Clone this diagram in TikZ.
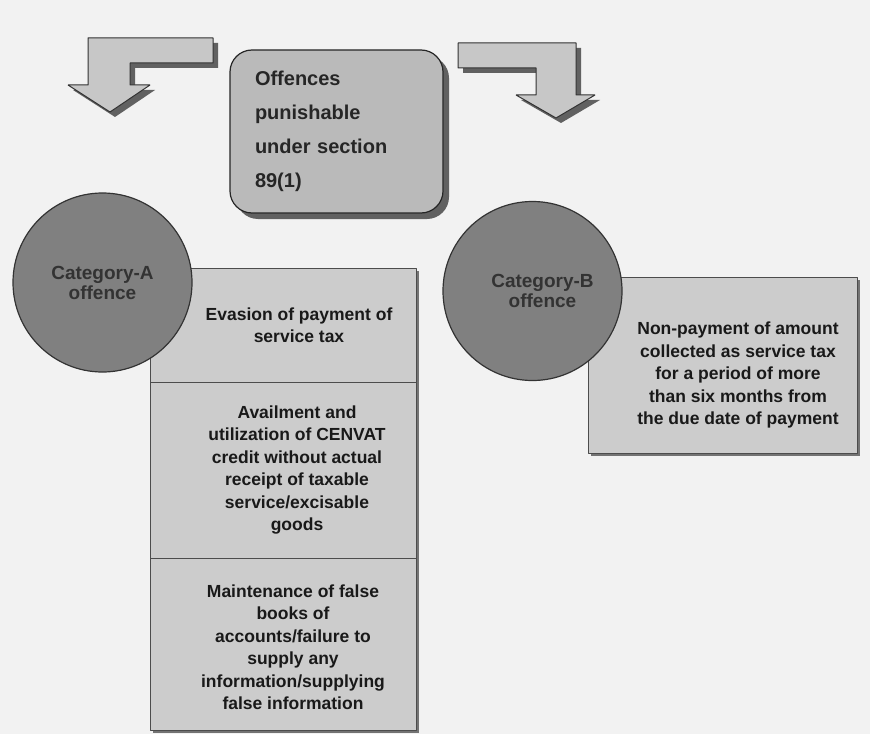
\documentclass[tikz,border=0pt]{standalone}
\usepackage{fontspec}
\setmainfont{Liberation Sans}
\usetikzlibrary{shapes,shadows}

\tikzset{
  blockarrow/.style={draw=black!80, fill=black!22, line width=1bp},
  arrowshadow/.style={fill=black!62},
  offbox/.style={rectangle, draw=black!85, fill=black!27, line width=1.2bp,
    rounded corners=22bp, minimum width=213bp, minimum height=163bp,
    text width=163bp, align=left, font=\fontsize{20bp}{34bp}\selectfont\bfseries,
    text=black!85,
    drop shadow={shadow xshift=6bp, shadow yshift=-6bp, fill=black!62, opacity=1}},
  catcirc/.style={circle, draw=black!80, fill=black!50, line width=1.2bp,
    minimum size=179bp, inner sep=0pt, align=center, text=black!80,
    font=\fontsize{19bp}{20bp}\selectfont\bfseries},
  listbox/.style={rectangle, draw=black!70, fill=black!20, line width=1bp,
    inner sep=0pt,
    drop shadow={shadow xshift=3bp, shadow yshift=-3bp, fill=black!55, opacity=1}},
  listtxt/.style={align=center, inner sep=0pt, text=black!90,
    font=\fontsize{17.5bp}{22.5bp}\selectfont\bfseries},
}

\begin{document}
\begin{tikzpicture}[x=1bp,y=-1bp,line join=bevel]
\useasboundingbox (0,0) rectangle (870,734);
\fill[black!5] (0,0) rectangle (870,734);

% Arrow: left
\path[arrowshadow, shift={(5,5)}] (88,38) -- (213,38) -- (213,63) -- (130,63) -- (130,85)
  -- (150,85) -- (110,112) -- (68,85) -- (88,85) -- cycle;
\path[blockarrow] (88,38) -- (213,38) -- (213,63) -- (130,63) -- (130,85)
  -- (150,85) -- (110,112) -- (68,85) -- (88,85) -- cycle;

% Arrow: right
\path[arrowshadow, shift={(5,5)}] (458,43) -- (576,43) -- (576,95) -- (595,95) -- (556,118)
  -- (516,95) -- (536,95) -- (536,68) -- (458,68) -- cycle;
\path[blockarrow] (458,43) -- (576,43) -- (576,95) -- (595,95) -- (556,118)
  -- (516,95) -- (536,95) -- (536,68) -- (458,68) -- cycle;

% Node: offences
\node[offbox] (off) at (336.5,131.5) {Offences\\punishable\\under section\\89(1)};

% Node: category A list
\node[listbox, minimum width=266bp, minimum height=114bp] (evasion) at (283,325) {};
\node[listbox, minimum width=266bp, minimum height=176bp] (cenvat) at (283,470) {};
\node[listbox, minimum width=266bp, minimum height=172bp] (books) at (283,644) {};
\node[listtxt] (evasiontxt) at (299,325) {Evasion of payment of\\service tax};
\node[listtxt] (cenvattxt) at (297,470) {Availment and\\utilization of CENVAT\\credit without actual\\receipt of taxable\\service/excisable\\goods};
\node[listtxt] (bookstxt) at (293,647) {Maintenance of false\\books of\\accounts/failure to\\supply any\\information/supplying\\false information};

% Node: category B list
\node[listbox, minimum width=269bp, minimum height=176bp] (nonpay) at (722.5,365) {};
\node[listtxt] (nonpaytxt) at (738,375) {Non-payment of amount\\collected as service tax\\for a period of more\\than six months from\\the due date of payment};

% Node: categories
\node[catcirc] (catA) at (102.5,282.5) {Category-A\\offence};
\node[catcirc] (catB) at (532.5,291) {\hspace*{20bp}Category-B\\\hspace*{20bp}offence};

\end{tikzpicture}
\end{document}
